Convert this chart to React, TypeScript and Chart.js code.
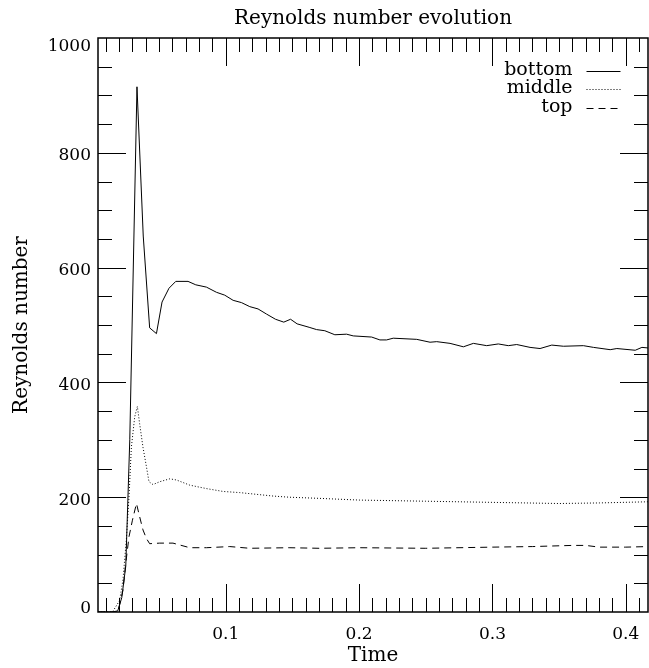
import React, { useEffect, useRef } from 'react';
import { Chart, registerables } from 'chart.js';

Chart.register(...registerables);

// ---- data ----
const timesBottom = [0.0042, 0.010, 0.015, 0.019, 0.022, 0.025, 0.028, 0.0334, 0.0381, 0.0429, 0.048, 0.0522, 0.0574, 0.0625, 0.0717, 0.0775, 0.0855, 0.093, 0.0992, 0.1055, 0.1118, 0.118, 0.1242, 0.1306, 0.1373, 0.1435, 0.1486, 0.1535, 0.1625, 0.1681, 0.1743, 0.1818, 0.1906, 0.1956, 0.2094, 0.2156, 0.2206, 0.2256, 0.2432, 0.2532, 0.2582, 0.2682, 0.2782, 0.2857, 0.2957, 0.3044, 0.3119, 0.3182, 0.3282, 0.3357, 0.3445, 0.3532, 0.3682, 0.3758, 0.3883, 0.3933, 0.4071, 0.4121, 0.4167];
const bottomValues = [0, 0, 0, 2, 25, 80, 300, 915, 655, 495, 485, 540, 564, 576, 576, 570, 566, 557, 552, 543, 539, 532, 528, 519, 510, 505, 510, 502, 496, 492, 490, 483, 484, 481, 479, 474, 474, 477, 475, 470, 471, 468, 462, 468, 464, 467, 464, 466, 461, 459, 465, 463, 464, 461, 457, 459, 456, 461, 460];

const timesMiddle = [0.0042, 0.015, 0.0204, 0.0229, 0.0254, 0.0274, 0.0292, 0.0317, 0.0337, 0.0354, 0.0379, 0.0405, 0.0424, 0.0454, 0.0505, 0.058, 0.063, 0.073, 0.0855, 0.098, 0.1105, 0.123, 0.1355, 0.1475, 0.17, 0.2, 0.25, 0.3, 0.35, 0.38, 0.4167];
const middleValues = [0, 0, 20, 56, 125, 200, 287, 340, 358, 328, 287, 253, 227, 222, 227, 232, 230, 221, 215, 210, 208, 205, 202, 200, 198, 195, 193, 191, 189, 190, 192];

const timesTop = [0.0042, 0.0191, 0.0229, 0.0247, 0.0274, 0.030, 0.033, 0.0354, 0.0379, 0.0405, 0.0429, 0.0505, 0.0604, 0.073, 0.0855, 0.103, 0.118, 0.1475, 0.17, 0.2, 0.25, 0.3, 0.33, 0.36, 0.37, 0.38, 0.4, 0.4167];
const topValues = [0, 0, 38, 79, 131, 160, 189, 166, 143, 128, 119, 120, 120, 112, 112, 114, 111, 112, 111, 112, 111, 113, 114, 116, 116, 113, 113, 114];

const seriesLabels = ['bottom', 'middle', 'top'];
const xMajorTicks = [0.1, 0.2, 0.3, 0.4];
const yMajorTicks = [0, 200, 400, 600, 800, 1000];
const X_MIN = 1 / 240;
const X_MAX = 100 / 240;
const X_MINOR_STEP = 0.01;
const Y_MINOR_STEP = 50;

const FONT = "'DejaVu Serif', serif";

const frameTicksPlugin = {
  id: 'frameTicks',
  afterDatasetsDraw(chart: any) {
    const { ctx, chartArea } = chart;
    const { left, right, top, bottom } = chartArea;
    const xs = chart.scales.x;
    const ys = chart.scales.y;
    ctx.save();
    ctx.strokeStyle = '#000';
    ctx.lineWidth = 1;
    ctx.setLineDash([]);
    ctx.beginPath();
    for (let k = 1; k * X_MINOR_STEP <= X_MAX; k++) {
      const t = k * X_MINOR_STEP;
      if (t < X_MIN) continue;
      const px = Math.round(xs.getPixelForValue(t)) + 0.5;
      const len = k % 10 === 0 ? 28 : 14;
      ctx.moveTo(px, bottom);
      ctx.lineTo(px, bottom - len);
      ctx.moveTo(px, top);
      ctx.lineTo(px, top + len);
    }
    for (let k = 1; k * Y_MINOR_STEP < 1000; k++) {
      const v = k * Y_MINOR_STEP;
      const py = Math.round(ys.getPixelForValue(v)) + 0.5;
      const len = k % 4 === 0 ? 28 : 14;
      ctx.moveTo(left, py);
      ctx.lineTo(left + len, py);
      ctx.moveTo(right, py);
      ctx.lineTo(right - len, py);
    }
    ctx.stroke();
    ctx.lineWidth = 1.5;
    ctx.strokeRect(left, top, right - left, bottom - top);
    ctx.restore();
  },
};

const idlLegendPlugin = {
  id: 'idlLegend',
  afterDatasetsDraw(chart: any) {
    const { ctx, chartArea } = chart;
    ctx.save();
    ctx.font = `19px ${FONT}`;
    ctx.fillStyle = '#000';
    ctx.textAlign = 'right';
    ctx.textBaseline = 'alphabetic';
    chart.data.datasets.forEach((ds: any, i: number) => {
      const baseY = chartArea.top + 36.5 + i * 18.8;
      ctx.fillText(ds.label, chartArea.right - 75.5, baseY);
      ctx.setLineDash(ds.borderDash || []);
      ctx.lineWidth = 1;
      ctx.strokeStyle = ds.borderColor;
      const ly = Math.round(baseY - 4) + 0.5;
      ctx.beginPath();
      ctx.moveTo(chartArea.right - 61.5, ly);
      ctx.lineTo(chartArea.right - 27.5, ly);
      ctx.stroke();
    });
    ctx.restore();
  },
};

export default function App() {
  const ref = useRef<HTMLCanvasElement | null>(null);

  useEffect(() => {
    if (!ref.current) return;
    const mk = (ts: number[], vs: number[]) => ts.map((t, i) => ({ x: t, y: vs[i] }));
    const chart = new Chart(ref.current, {
      type: 'line',
      data: {
        datasets: [
          { label: seriesLabels[0], data: mk(timesBottom, bottomValues), borderColor: '#000', borderWidth: 1, pointRadius: 0, fill: false, tension: 0 },
          { label: seriesLabels[1], data: mk(timesMiddle, middleValues), borderColor: '#000', borderWidth: 1, pointRadius: 0, fill: false, tension: 0, borderDash: [1, 2] },
          { label: seriesLabels[2], data: mk(timesTop, topValues), borderColor: '#000', borderWidth: 1, pointRadius: 0, fill: false, tension: 0, borderDash: [7, 5] },
        ],
      },
      options: {
        responsive: false,
        animation: false,
        devicePixelRatio: 1,
        layout: { padding: { left: 0, right: 1, top: 0, bottom: 0 } },
        plugins: {
          legend: { display: false },
          tooltip: { enabled: false },
          title: {
            display: true,
            text: 'Reynolds number evolution',
            fullSize: false,
            color: '#000',
            font: { family: FONT, size: 20, weight: 'normal', lineHeight: 1.2 },
            padding: { top: 7, bottom: 7 },
          },
        },
        scales: {
          x: {
            type: 'linear',
            min: X_MIN,
            max: X_MAX,
            grid: { display: false, drawTicks: false },
            border: { display: false },
            afterBuildTicks: (s: any) => {
              s.ticks = xMajorTicks.map((v) => ({ value: v }));
            },
            afterFit: (s: any) => {
              s.height = 56;
              s.paddingLeft = 0;
              s.paddingRight = 0;
            },
            ticks: {
              autoSkip: false,
              maxRotation: 0,
              padding: 12,
              color: '#000',
              font: { family: FONT, size: 17 },
              callback: (v: any) => Number(v).toFixed(1),
            },
            title: {
              display: true,
              text: 'Time',
              color: '#000',
              font: { family: FONT, size: 20, lineHeight: 1.2 },
              padding: { top: 0, bottom: 0 },
            },
          },
          y: {
            type: 'linear',
            min: 0,
            max: 1000,
            grid: { display: false, drawTicks: false },
            border: { display: false },
            afterBuildTicks: (s: any) => {
              s.ticks = yMajorTicks.map((v) => ({ value: v }));
            },
            afterFit: (s: any) => {
              s.width = 98;
              s.paddingTop = 0;
              s.paddingBottom = 0;
            },
            ticks: {
              autoSkip: false,
              padding: 7,
              labelOffset: 3,
              color: '#000',
              font: { family: FONT, size: 17, lineHeight: '12px' },
              callback: (v: any) => {
                const n = Number(v);
                if (n === 0) return ['0', ''];
                if (n === 1000) return ['', '1000'];
                return String(n);
              },
            },
            title: {
              display: true,
              text: 'Reynolds number',
              color: '#000',
              font: { family: FONT, size: 20, lineHeight: 1.2 },
              padding: { top: 10, bottom: 0 },
            },
          },
        },
      } as any,
      plugins: [frameTicksPlugin, idlLegendPlugin],
    });
    return () => chart.destroy();
  }, []);

  return (
    <div style={{ position: 'fixed', left: 0, top: 0, width: 649, height: 668, background: '#fff' }}>
      <canvas ref={ref} width={649} height={668} style={{ display: 'block', width: 649, height: 668 }} />
    </div>
  );
}
